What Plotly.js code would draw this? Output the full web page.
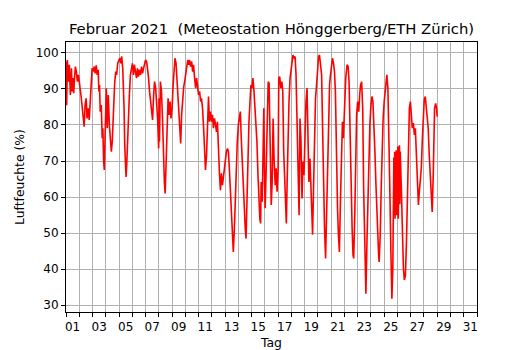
<!DOCTYPE html>
<html>
<head>
<meta charset="utf-8">
<script src="https://cdn.plot.ly/plotly-3.0.1.min.js"></script>
<style>
  html, body { margin: 0; padding: 0; background: #fff; }
  #chart { width: 530px; height: 350px; }
</style>
</head>
<body>
<div id="chart"></div>
<script>
// Zeit in Tagen ab 1. Februar 2021 00:00
const tage = [
  0.00,0.05,0.10,0.18,0.25,0.33,0.41,0.46,0.53,0.58,0.66,0.71,0.78,0.86,0.94,0.99,
  1.06,1.14,1.22,1.29,1.37,1.44,1.52,1.59,1.67,1.75,1.82,1.90,1.97,
  2.05,2.13,2.20,2.28,2.35,2.43,2.48,2.53,2.58,2.66,2.73,2.78,2.84,2.89,2.94,2.99,
  3.04,3.11,3.19,3.27,3.34,3.42,3.49,3.54,3.59,3.67,3.75,3.82,3.90,
  3.97,4.05,4.13,4.20,4.28,4.33,4.38,4.43,4.48,4.53,4.58,4.63,4.71,4.78,4.86,4.94,
  5.01,5.09,5.16,5.24,5.32,5.39,5.47,5.54,5.62,5.70,5.77,5.85,5.92,
  6.00,6.08,6.15,6.23,6.30,6.38,6.46,6.53,6.61,6.68,6.76,6.84,6.91,6.99,
  7.02,7.05,7.12,7.20,7.28,7.35,7.42,7.48,7.55,7.62,7.70,7.78,7.85,7.92,8.00,
  8.08,8.15,8.22,8.30,8.38,8.45,8.52,8.60,8.65,8.72,8.80,8.88,8.95,9.02,
  9.10,9.18,9.25,9.32,9.40,9.48,9.55,9.62,9.70,9.78,9.85,9.92,10.00,
  10.08,10.15,10.22,10.30,10.38,10.45,10.52,10.60,10.68,10.75,10.82,10.90,10.98,
  11.05,11.12,11.20,11.28,11.35,11.42,11.50,11.58,11.65,11.72,11.80,11.88,11.95,
  12.02,12.10,12.18,12.25,12.32,12.40,12.48,12.55,12.62,12.70,12.78,12.85,12.92,13.00,
  13.08,13.15,13.22,13.30,13.38,13.45,13.52,13.58,13.65,13.72,13.80,13.88,13.95,
  14.02,14.10,14.18,14.25,14.32,14.40,14.48,14.55,14.62,14.68,14.72,14.80,14.88,14.92,14.98,
  15.02,15.10,15.18,15.25,15.32,15.40,15.48,15.55,15.62,15.70,15.78,15.85,15.92,16.00,
  16.05,16.12,16.20,16.28,16.35,16.42,16.50,16.58,16.62,16.68,16.75,16.82,16.90,16.98,
  17.05,17.12,17.20,17.28,17.35,17.42,17.50,17.58,17.65,17.72,17.80,17.88,17.95,
  18.02,18.10,18.18,18.25,18.32,18.40,18.48,18.55,18.60,18.68,18.75,18.82,18.90,18.98,
  19.05,19.12,19.20,19.28,19.35,19.42,19.50,19.58,19.65,19.72,19.80,19.88,19.95,
  20.02,20.10,20.18,20.25,20.32,20.40,20.48,20.55,20.62,20.70,20.78,20.85,20.92,21.00,
  21.10,21.20,21.28,21.35,21.42,21.50,21.58,21.65,21.70,21.78,21.85,21.92,22.00,
  22.08,22.15,22.22,22.30,22.38,22.45,22.52,22.58,22.62,22.70,22.78,22.85,22.92,23.00,
  23.08,23.15,23.22,23.30,23.38,23.45,23.52,23.58,23.62,23.70,23.78,23.85,23.92,24.00,
  24.08,24.15,24.20,24.28,24.35,24.42,24.50,24.58,24.65,24.70,
  24.73,24.76,24.79,24.82,24.85,24.88,24.91,24.94,24.97,25.00,25.03,25.06,25.09,25.12,25.15,25.18,25.21,
  25.30,25.38,25.45,25.52,25.60,25.68,25.75,25.82,25.90,25.98,
  26.05,26.12,26.20,26.28,26.35,26.42,26.50,26.58,26.65,26.72,26.80,26.88,26.95,27.02,
  27.10,27.18,27.25,27.32,27.40,27.48,27.55,27.62,27.70,27.75,27.80,27.88,27.95,28.00
];

// Relative Luftfeuchte in %
const feuchte = [
  97.6,85.5,98,92,96.7,88.3,95.7,89.3,93,88.8,93.9,96.2,94.8,92,93.9,91.1,
  90.2,87.9,84.6,80.5,79.5,85.5,87.4,81.8,84.6,81.4,86.5,93,95.7,
  94.8,96.2,94.3,96.5,93.9,95.3,89.3,91.1,83.7,85.5,76.3,79.1,69.8,67.5,75.4,84.6,
  90.2,79.1,88.3,80,75.4,72.6,75.4,80.9,86.5,91.6,94.8,93.9,97.1,
  97.6,98.5,97.1,99,95.7,91.1,84.6,74.4,68,65.6,68.9,75.4,80,88.3,93.9,96.2,
  97.1,93.9,96.7,94.8,93,95.7,93.4,95.3,93.9,96.2,94.3,95.7,97.1,
  98,97.6,95.7,93,89.3,86.5,84.6,81.4,88.3,92,90.2,85.5,81.8,73.5,
  87.4,75.4,92,89.3,81.8,71.6,64.2,61,71.6,76.3,87.4,82.8,86.5,81.8,84.6,
  91.1,96.7,98.5,97.1,91.1,87.4,81.8,76.3,74.9,82.8,87.4,90.6,92,94.3,
  96.2,98,96.7,98,96.2,97.6,94.8,96.7,93,90.2,93,90.2,88.3,
  89.3,86.5,87.4,84.6,79.1,73.5,67.5,71.6,80.9,87.9,80.9,83.7,80.9,
  82.8,79.1,81.8,80,78.1,80.9,70.7,66.1,61.9,66.6,63.3,66.1,68,
  70.7,72.6,73.5,72.6,68,61.5,55,49.4,44.8,51.3,61.5,69.8,75.4,80,
  82.8,83.7,76.3,68.9,62.4,56.9,51.3,48.5,59.6,75.4,80.9,86.5,91.1,
  90.2,93,89.3,84.6,79.1,75.4,66.1,58.7,54,52.7,64.2,58.7,82.8,84.6,64.2,
  56.9,68,81.8,92,91.6,68,57.8,64.2,81.8,69.8,63.3,68,61.5,68,
  93,93.4,90.2,92,89.3,72.6,61.5,55,52.7,64.2,80,86.5,93,95.3,
  98,99.4,98.5,99,93.9,80,63.3,55,81.8,76.3,59.6,69.8,66.1,
  80,86.5,90.2,80,64.2,70.7,61.5,51.3,49.6,64.2,78.1,87.4,91.1,95.7,
  99,99.4,96.7,93.9,80,64.2,51.3,43,55,72.6,82.8,91.1,93.9,
  96.2,98.5,97.1,94.8,89.3,70.7,56.9,49.4,44.8,58.7,75.4,80.9,76.3,84.6,
  93,96.7,96.2,92,80,58.7,51.3,43.9,43,55,72.6,82.8,86.5,
  83.7,88.3,91.1,92,84.6,62.4,49.4,40.2,33.2,47.6,60.5,75.4,80,85.5,
  87.9,86.5,80.9,72.6,63.3,55,51.3,43.9,42,49.4,63.3,75.4,81.8,86.5,
  89.3,92,93.9,90.2,80,63.3,45.7,31.8,40.2,54,
  71,55,72.6,54,70,56,73,55,71,57,74,54,72,56,74.4,58,72.6,
  61.5,49.4,40.2,37,38.3,47.6,61.5,75.4,84.6,86.5,
  82.8,79.1,80.5,77.2,79.1,72.6,64.2,57.8,61.5,65.2,68,76.3,84.6,86.9,
  87.9,84.6,80.9,79.1,71.6,64.2,57.8,55.9,66.1,79.1,84.6,86,84.6,82.3
];

// Beschriftete Tage (ungerade Tage, mittig im Tag)
const tagLabels = ['01','03','05','07','09','11','13','15','17','19','21','23','25','27','29','31'];
const yTicks = [30, 40, 50, 60, 70, 80, 90, 100];

const font = 'DejaVu Sans, Liberation Sans, sans-serif';
const dayBounds = [];
for (let d = 0; d <= 31; d++) dayBounds.push(d);

const trace = {
  x: tage,
  y: feuchte,
  type: 'scatter',
  mode: 'lines',
  line: { color: '#ff0000', width: 1.6 },
  hoverinfo: 'skip'
};

const layout = {
  width: 530,
  height: 350,
  margin: { l: 66, r: 53, t: 42, b: 38, pad: 0 },
  paper_bgcolor: '#ffffff',
  plot_bgcolor: '#ffffff',
  showlegend: false,
  title: {
    text: 'Februar 2021 \u00a0(Meteostation Hönggerberg/ETH Zürich)',
    font: { family: font, size: 14.8, color: '#000000' },
    xref: 'paper', x: 0.5, xanchor: 'center',
    yref: 'container', y: 1 - 29 / 350, yanchor: 'middle'
  },
  xaxis: {
    range: [0, 31],
    tickmode: 'array',
    tickvals: tagLabels.map(function (s) { return parseInt(s, 10) - 0.5; }),
    ticktext: tagLabels,
    ticks: '',
    ticklabelstandoff: 4,
    showgrid: false,
    zeroline: false,
    showline: true, mirror: true, linecolor: '#000000', linewidth: 1,
    tickfont: { family: font, size: 12, color: '#000000' },
    minor: {
      tickmode: 'array',
      tickvals: dayBounds,
      ticks: 'outside', ticklen: 4, tickwidth: 1, tickcolor: '#000000',
      showgrid: true, gridcolor: '#b0b0b0', gridwidth: 1
    },
    title: { text: 'Tag', font: { family: font, size: 12.4, color: '#000000' }, standoff: 4 },
    fixedrange: true
  },
  yaxis: {
    range: [28.14, 103],
    tickmode: 'array',
    tickvals: yTicks,
    ticktext: yTicks.map(String),
    ticks: 'outside', ticklen: 4, tickwidth: 1, tickcolor: '#000000',
    showgrid: true, gridcolor: '#b0b0b0', gridwidth: 1,
    zeroline: false,
    showline: true, mirror: true, linecolor: '#000000', linewidth: 1,
    tickfont: { family: font, size: 12, color: '#000000' },
    title: { text: 'Luftfeuchte (%)', font: { family: font, size: 12.4, color: '#000000' }, standoff: 8 },
    fixedrange: true
  }
};

Plotly.newPlot('chart', [trace], layout, { displayModeBar: false, staticPlot: true });
</script>
</body>
</html>
